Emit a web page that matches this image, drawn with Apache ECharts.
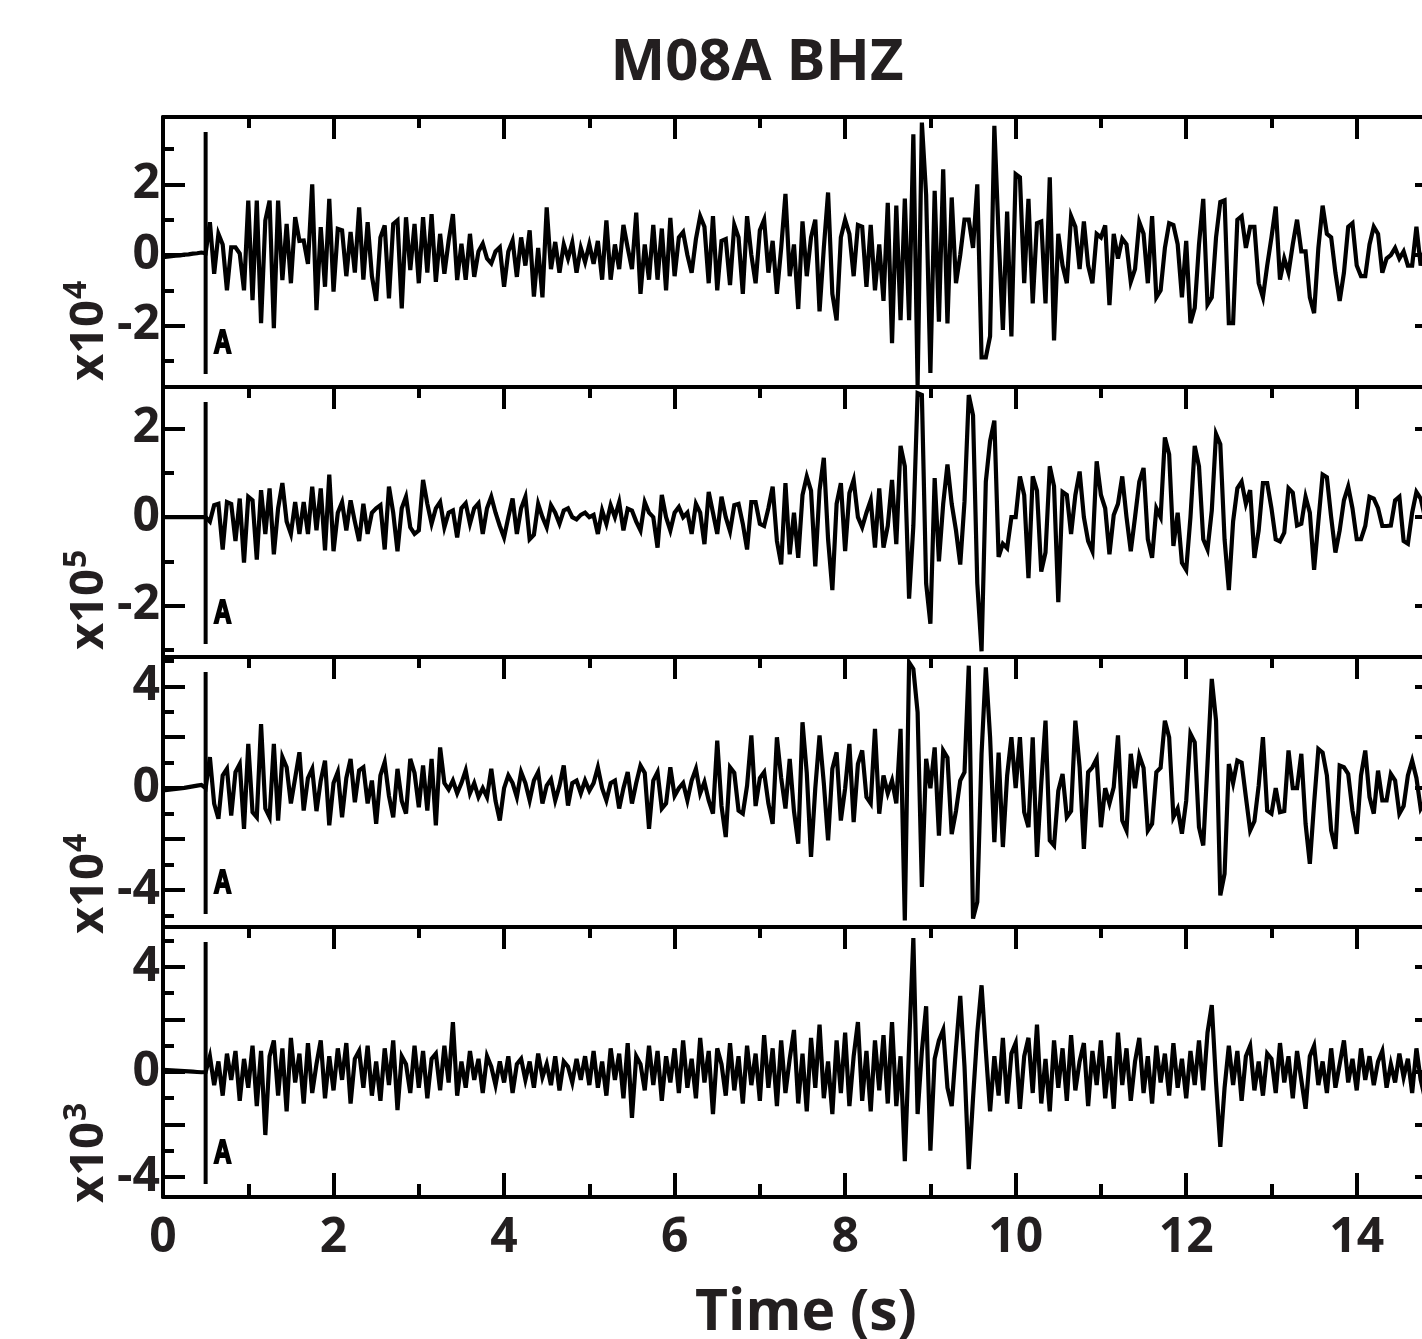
<!DOCTYPE html>
<html>
<head>
<meta charset="utf-8">
<script src="https://cdn.jsdelivr.net/npm/echarts@6/dist/echarts.min.js"></script>
<style>
html,body{margin:0;padding:0;background:#fff;}
#c{width:1422px;height:1339px;}
</style>
</head>
<body>
<div id="c"></div>
<script>
// ---------------- data ----------------
const chartTitle = 'M08A BHZ';
const xAxisTitle = 'Time (s)';
const sampleStart = 0;      // s
const sampleStep = 0.05;    // s
const markerTime = 0.5;     // s
const markerLabel = 'A';
const xMajorTicks = [0, 2, 4, 6, 8, 10, 12, 14];
const xMinorTicks = [1, 3, 5, 7, 9, 11, 13, 15];
const xRange = [0, 15];
const panelExponents = ['4', '5', '4', '3'];
const panelRanges = [[-3.74, 3.91], [-3.16, 2.94], [-5.45, 5.15], [-4.76, 5.52]];
const yLabelTicks = [[-2, 0, 2], [-2, 0, 2], [-4, 0, 4], [-4, 0, 4]];
const yMajorTicks = [[-2, 0, 2], [-2, 0, 2], [-4, -2, 0, 2, 4], [-4, -2, 0, 2, 4]];
const yMinorTicks = [[-3, -1, 1, 3], [-3, -1, 1], [-5, -3, -1, 1, 3, 5], [-3, -1, 1, 3, 5]];

// panel 1 (x10^4)
const trace1 = [
-0.06,-0.05,-0.03,-0.02,-0.01,0.01,0.02,0.04,0.05,0.07,
0.05,0.93,-0.53,0.6,0.3,-1.0,0.22,0.22,0.04,-1.0,
1.54,-1.28,1.54,-1.93,0.98,1.54,-2.07,1.54,-0.71,0.88,-0.8,1.07,0.4,0.41,-0.25,2.0,-1.56,0.79,-0.9,1.59,
-1.04,0.74,0.7,-0.6,0.65,-0.5,1.35,-0.7,0.93,-0.6,-1.3,0.5,0.84,-1.23,0.88,0.98,-1.51,1.07,-0.43,0.88,
-0.8,1.07,-0.5,1.16,-0.76,0.6,-0.53,0.4,1.16,-0.71,0.32,-0.7,0.6,-0.62,0.1,0.32,-0.1,-0.24,0.1,0.22,
-0.9,0.1,0.41,-0.62,0.5,-0.3,0.7,-1.18,0.2,-1.2,1.35,-0.4,0.37,-0.5,0.3,-0.1,0.35,-0.5,0.2,-0.2,
0.3,-0.25,0.4,-0.7,0.98,-0.7,0.3,-0.4,0.85,0.2,-0.4,1.2,-1.1,0.3,-0.7,0.85,-0.7,0.75,-1.0,1.05,
-0.6,0.5,0.65,0.0,-0.5,0.45,1.1,0.8,-0.8,1.1,-1.0,0.4,0.45,-0.85,0.85,0.5,-1.1,1.1,0.0,-0.8,
0.7,1.0,-0.5,0.4,-1.1,0.2,1.73,-0.6,0.3,-1.53,0.95,-0.6,0.5,1.0,-1.6,0.2,1.77,-1.1,-1.85,0.5,
1.0,0.6,-0.6,0.85,0.8,-0.9,0.85,-1.0,0.3,-1.3,1.48,-2.5,1.4,-1.85,1.6,-1.85,3.42,-3.7,3.75,1.7,
-3.34,1.82,-1.89,2.43,-1.94,1.63,-0.8,0.0,1.0,1.0,0.2,2.0,-2.9,-2.9,-2.3,3.66,0.55,-2.12,1.23,-2.31,
2.29,2.2,-0.8,1.59,-1.37,0.9,0.95,-1.37,2.2,-2.42,0.6,-0.3,-0.8,1.1,0.8,-0.4,0.95,-0.3,-0.8,0.6,
0.5,0.84,-1.42,0.6,-0.1,0.46,0.3,-0.76,-0.4,0.93,0.6,-0.8,1.1,-1.2,-1.0,0.2,0.9,0.85,0.3,-1.2,
0.4,-1.93,-1.5,0.3,1.59,-1.4,-1.2,0.5,1.5,1.55,-1.93,-1.93,1.0,1.1,0.2,0.8,0.8,-0.8,-1.2,-0.3,
0.5,1.37,-0.7,-0.1,-0.5,0.3,1.0,0.1,0.1,-1.2,-1.65,0.2,1.4,0.6,0.5,-0.5,-1.3,-0.5,0.8,0.9,
-0.3,-0.6,-0.6,0.3,0.8,0.6,-0.5,-0.1,0.0,0.2,-0.1,0.1,-0.3,-0.3,0.8,-0.3,0.2,-0.2,0.1,0.0,
0.0
];
// panel 2 (x10^5)
const trace2 = [
0.0,0.0,0.0,0.0,0.0,0.0,0.0,0.0,0.0,0.0,
0.0,-0.1,0.27,0.3,-0.73,0.34,0.3,-0.54,0.42,-1.03,
0.46,0.38,-0.96,0.61,-0.38,0.65,-0.84,0.2,0.77,-0.1,-0.38,0.34,-0.38,0.34,-0.38,0.69,-0.3,0.65,-0.75,0.96,
-0.77,0.1,0.34,-0.3,0.38,-0.1,-0.54,0.3,-0.38,0.1,0.2,0.27,-0.73,0.69,0.1,-0.77,0.2,0.46,-0.23,-0.38,
-0.3,0.84,0.3,-0.15,0.2,0.34,-0.23,0.1,0.15,-0.46,0.2,0.31,-0.15,0.2,0.31,-0.38,0.2,0.46,0.1,-0.2,
-0.46,0.0,0.42,-0.38,0.2,0.46,-0.5,-0.4,0.3,0.0,-0.23,0.27,0.1,-0.15,0.15,0.2,0.0,-0.05,0.05,0.1,
0.0,0.05,-0.38,0.15,-0.15,0.27,0.0,0.34,-0.3,0.19,0.15,-0.1,-0.3,0.34,0.1,0.0,-0.69,0.5,0.0,-0.3,
0.1,0.23,0.0,0.1,-0.38,0.3,0.1,-0.61,0.57,0.1,-0.38,0.46,0.0,-0.32,0.27,0.3,-0.15,-0.73,0.34,0.34,
-0.15,-0.2,0.2,0.69,-0.54,-1.07,0.77,-0.84,0.1,-0.92,0.5,0.92,0.6,-1.11,0.61,1.34,-0.5,-1.65,0.3,0.77,
-0.77,0.54,0.84,0.0,-0.23,0.1,0.38,-0.69,0.65,-0.69,-0.2,0.84,-0.61,1.61,1.15,-1.84,-0.2,2.8,2.76,-1.5,
-2.41,0.88,-1.0,0.3,1.19,0.3,-0.3,-1.07,0.35,2.76,2.3,-1.5,-3.03,0.8,1.72,2.18,-0.9,-0.6,-0.7,0.0,
0.0,0.92,0.5,-1.38,0.92,0.6,-1.23,-0.8,1.15,0.7,-1.92,0.57,0.5,-0.38,0.5,1.03,0.0,-0.54,-0.77,1.26,
0.5,0.2,-0.84,0.05,0.3,0.92,0.0,-0.77,0.0,0.8,1.11,-0.5,-0.92,0.2,0.0,1.8,1.42,-0.65,0.1,-1.03,
-1.19,0.0,1.61,1.15,-0.5,-0.73,0.15,1.88,1.65,-0.5,-1.65,-0.1,0.65,0.8,0.3,0.61,-0.92,-0.3,0.77,0.77,
0.2,-0.5,-0.55,-0.35,0.65,0.55,-0.19,-0.15,0.46,0.1,-1.19,-0.1,0.96,0.9,0.0,-0.8,-0.3,0.38,0.69,0.2,
-0.5,-0.5,-0.2,0.46,0.42,0.2,-0.2,-0.2,-0.19,0.38,0.46,-0.54,-0.6,0.1,0.57,0.42,0.0,-0.2,0.0,0.1,
0.0
];
// panel 3 (x10^4)
const trace3 = [
-0.09,-0.07,-0.05,-0.03,-0.01,0.01,0.04,0.07,0.1,0.13,
0.0,1.22,-0.61,-1.2,0.5,0.76,-1.07,0.63,0.95,-1.6,
1.74,-0.94,-1.14,2.52,-0.8,-1.14,1.74,-1.27,1.22,0.82,-0.6,0.4,1.41,-0.88,0.4,0.76,-0.9,0.3,1.08,-1.46,
0.2,0.63,-1.14,0.4,1.15,-0.55,0.7,0.82,-0.6,0.3,-1.4,0.5,1.02,-0.3,-1.14,0.76,-0.5,-1.0,1.15,0.6,
-0.75,0.89,-0.88,1.15,-1.46,1.6,0.2,-0.05,0.3,-0.2,0.2,0.7,-0.2,0.2,-0.35,0.0,-0.35,0.76,-0.5,-1.27,
0.0,0.5,0.2,-0.35,0.63,0.2,-0.48,0.3,0.63,-0.6,0.1,0.35,-0.48,0.1,0.89,-0.68,0.2,0.3,-0.2,0.3,
-0.1,0.2,0.82,0.0,-0.48,0.2,0.3,-0.8,0.0,0.63,-0.6,0.2,0.89,0.6,-1.6,0.3,0.63,-0.8,-0.6,0.82,
-0.3,0.0,0.2,-0.48,0.3,0.76,-0.2,0.24,-0.48,-1.0,1.87,-0.7,-1.92,0.82,0.6,-0.88,-1.0,0.1,2.07,-0.7,
0.4,0.63,-0.6,-1.4,2.0,0.4,-0.8,1.15,-0.9,-2.18,2.59,0.6,-2.7,0.0,2.07,0.2,-2.05,0.76,1.41,-1.27,
0.0,1.74,-1.33,0.95,1.48,-0.35,-0.6,2.33,-1.0,0.5,-0.2,0.3,-0.6,2.33,-5.19,4.94,4.68,2.98,-3.88,1.15,
0.0,1.6,-1.86,1.48,1.2,-1.8,-0.9,0.3,0.63,4.81,-5.12,-4.47,1.35,4.74,2.0,-2.12,1.4,-2.31,0.5,2.0,
0.0,2.0,-0.94,-1.53,2.0,-2.7,0.17,2.65,-2.05,-2.25,-0.1,0.56,-1.14,-0.9,2.65,0.82,-2.38,0.63,0.82,1.15,
-1.53,0.0,-0.6,0.04,2.07,-1.27,-1.66,1.35,0.0,1.28,0.8,-1.66,-1.4,0.63,0.8,2.65,2.0,-1.14,-0.8,-1.79,
-0.5,2.13,1.8,-1.53,-2.25,0.95,4.29,2.65,-4.21,-3.36,0.95,0.2,1.08,1.0,-0.35,-1.66,-1.3,0.1,2.0,-0.88,
-1.0,0.0,-0.94,-0.9,1.48,0.0,0.0,1.35,-1.4,-2.97,-0.6,1.54,1.4,0.5,-1.66,-2.38,0.89,0.82,0.56,-0.88,
-1.79,0.5,1.48,-0.35,-1.0,0.69,-0.48,-0.48,0.56,0.3,-1.0,-0.7,0.5,1.08,0.4,-0.8,-0.5,0.2,0.3,0.0,
0.0
];
// panel 4 (x10^3)
const trace4 = [
0.08,0.07,0.06,0.05,0.04,0.03,0.02,0.01,0.0,-0.01,
0.0,0.6,-0.5,0.4,-0.9,0.7,-0.3,0.8,-1.1,0.5,
-0.6,1.0,-1.3,0.8,-2.4,0.6,1.2,-0.9,0.9,-1.5,1.3,-0.4,0.7,-1.2,1.1,-0.8,0.3,1.2,-1.0,0.6,
-0.7,0.9,-0.3,1.1,-1.2,0.5,0.8,-0.6,1.0,-0.9,0.4,-1.1,0.9,-0.5,1.2,-1.45,0.6,0.3,-0.8,1.0,
-0.6,0.8,-1.0,0.5,0.7,-0.7,1.0,-0.4,1.9,-0.9,0.4,-0.6,0.8,-0.3,0.5,-0.8,0.6,0.2,-0.5,0.4,
-0.4,0.6,-0.8,0.3,0.5,-0.3,0.4,-0.6,0.7,-0.2,0.3,-0.5,0.6,-0.7,0.4,0.2,-0.4,0.5,-0.3,0.6,
-0.5,0.8,-0.6,0.4,-0.9,0.9,-0.3,0.7,-1.0,1.1,-1.75,0.6,0.3,-0.7,1.0,-0.5,0.8,-1.1,0.6,-0.4,
0.9,-0.8,1.2,-0.6,0.5,-1.0,1.3,-0.4,0.8,-1.6,0.9,0.3,-0.9,1.1,-0.7,0.6,-1.2,1.0,-0.5,0.7,
-1.1,1.4,-0.6,0.9,-1.3,1.2,-0.8,0.5,1.6,-1.2,0.7,-1.5,1.3,-0.6,1.8,-1.0,0.4,-1.6,1.2,-0.8,
1.5,-1.3,0.6,1.9,-1.1,0.8,-1.5,1.2,-0.7,1.4,-1.2,1.9,-1.3,0.6,-3.4,1.0,5.1,-1.6,0.8,2.5,
-3.0,0.5,1.2,1.6,-0.6,-1.3,0.9,2.9,0.2,-3.7,-1.0,1.5,3.3,0.8,-1.5,0.6,-0.9,1.3,-1.2,0.7,
1.1,-1.4,0.6,1.3,-0.8,1.8,-1.2,0.5,-1.5,1.2,-0.6,0.9,-1.1,1.4,-0.7,0.4,1.1,-1.3,0.8,-0.5,
1.2,-1.0,0.6,-1.4,1.5,-0.5,0.9,-1.1,0.4,1.3,-0.8,0.6,-1.2,1.0,-0.4,0.7,-0.9,1.1,-0.6,0.5,
-1.0,0.8,-0.5,1.2,-0.7,1.5,2.55,-0.4,-2.85,-0.6,1.0,-0.5,0.8,-1.1,0.6,1.0,-0.7,0.4,-0.9,0.7,
0.5,-0.8,1.1,-0.4,0.6,-1.0,0.8,-0.3,-1.4,0.6,1.0,-0.5,0.4,-0.8,0.9,-0.6,0.3,1.2,-0.4,0.5,
-0.7,0.9,-0.3,0.6,-0.5,0.4,0.8,-0.6,0.3,-0.4,0.7,-0.2,0.5,-0.8,0.9,-0.3,-1.0,0.4,-0.2,0.1,
0.0
];
const traces = [trace1, trace2, trace3, trace4];

// ---------------- layout / style ----------------
const GRID_LEFT = 163, GRID_WIDTH = 1279, GRID_H = 270;
const GRID_TOPS = [117, 387, 657, 927];
const INK = '#000';
const TEXT = '#231f20';
const FONT = "'Open Sans', 'Liberation Sans', sans-serif";
const AXIS_W = 4;
const EXP_START_Y = [381, 650, 934, 1203];

const chart = echarts.init(document.getElementById('c'), null, {renderer: 'canvas'});

const grids = [], xAxes = [], yAxes = [], series = [];
const mainX = [], mainY = [];
const tickStyle = {color: INK, width: AXIS_W};

traces.forEach((tr, i) => {
  grids.push({left: GRID_LEFT, top: GRID_TOPS[i], width: GRID_WIDTH, height: GRID_H,
              containLabel: false, outerBoundsMode: 'none'});
  const [ymin, ymax] = panelRanges[i];
  const baseX = {type: 'value', gridIndex: i, min: xRange[0], max: xRange[1],
                 splitLine: {show: false}, axisLabel: {show: false}};
  mainX.push(xAxes.length);
  xAxes.push(Object.assign({}, baseX, {position: 'top',
    axisLine: {show: true, onZero: false, lineStyle: {color: INK, width: AXIS_W}},
    axisTick: {show: true, inside: true, length: 22, lineStyle: tickStyle, customValues: xMajorTicks}}));
  xAxes.push(Object.assign({}, baseX, {position: 'top',
    axisLine: {show: false, onZero: false},
    axisTick: {show: true, inside: true, length: 11, lineStyle: tickStyle, customValues: xMinorTicks}}));
  if (i === traces.length - 1) {
    xAxes.push(Object.assign({}, baseX, {position: 'bottom',
      axisLine: {show: true, onZero: false, lineStyle: {color: INK, width: AXIS_W}},
      axisTick: {show: true, inside: true, length: 24, lineStyle: tickStyle, customValues: xMajorTicks},
      axisLabel: {show: true, customValues: xMajorTicks, margin: 17, color: TEXT,
                  fontSize: 48, fontWeight: 'bold', fontFamily: FONT}}));
    xAxes.push(Object.assign({}, baseX, {position: 'bottom',
      axisLine: {show: false, onZero: false},
      axisTick: {show: true, inside: true, length: 13, lineStyle: tickStyle, customValues: xMinorTicks}}));
  }
  const baseY = {type: 'value', gridIndex: i, min: ymin, max: ymax, splitLine: {show: false}, axisLabel: {show: false}};
  mainY.push(yAxes.length);
  yAxes.push(Object.assign({}, baseY, {position: 'left',
    axisLine: {show: true, onZero: false, lineStyle: {color: INK, width: AXIS_W}},
    axisTick: {show: true, inside: true, length: 22, lineStyle: tickStyle, customValues: yMajorTicks[i]},
    axisLabel: {show: true, customValues: yLabelTicks[i], margin: 3, color: TEXT,
                fontSize: 48, fontWeight: 'bold', fontFamily: FONT}}));
  yAxes.push(Object.assign({}, baseY, {position: 'left',
    axisLine: {show: false, onZero: false},
    axisTick: {show: true, inside: true, length: 11, lineStyle: tickStyle, customValues: yMinorTicks[i]}}));
  yAxes.push(Object.assign({}, baseY, {position: 'right',
    axisLine: {show: true, onZero: false, lineStyle: {color: INK, width: AXIS_W}},
    axisTick: {show: true, inside: true, length: 27, lineStyle: tickStyle, customValues: yMajorTicks[i]}}));

  series.push({
    type: 'line', xAxisIndex: mainX[i], yAxisIndex: mainY[i],
    data: tr.map((v, k) => [Math.round((sampleStart + k * sampleStep) * 100) / 100, v]),
    showSymbol: false, symbol: 'none', silent: true, clip: true,
    lineStyle: {color: INK, width: 4.2, join: 'miter', miterLimit: 5}
  });
});

chart.setOption({
  animation: false,
  backgroundColor: '#fff',
  grid: grids, xAxis: xAxes, yAxis: yAxes, series: series
});

// ---------------- text and markers ----------------
const measure = document.createElement('canvas').getContext('2d');
const EXP_MAIN_FONT = `bold 47px ${FONT}`;
const EXP_SUP_FONT = `bold 32px ${FONT}`;
measure.font = EXP_MAIN_FONT;
const mainW = measure.measureText('x10').width;

const graphics = [];
graphics.push({type: 'text', x: 757, y: 63, silent: true,
  style: {text: chartTitle, font: `bold 58px ${FONT}`, fill: TEXT, align: 'center', verticalAlign: 'middle'}});
graphics.push({type: 'text', x: 806, y: 1314, silent: true,
  style: {text: xAxisTitle, font: `bold 57px ${FONT}`, fill: TEXT, align: 'center', verticalAlign: 'middle'}});

traces.forEach((tr, i) => {
  const top = GRID_TOPS[i], bottom = GRID_TOPS[i] + GRID_H;
  const px = chart.convertToPixel({xAxisIndex: mainX[i]}, markerTime);
  graphics.push({type: 'line', silent: true,
    shape: {x1: px, y1: top + 15, x2: px, y2: bottom - 13},
    style: {stroke: INK, lineWidth: 4}});
  graphics.push({type: 'text', x: px + 8, y: bottom - 43, scaleX: 0.72, silent: true,
    style: {text: markerLabel, font: `bold 34px 'Liberation Sans', sans-serif`, fill: INK,
            stroke: INK, lineWidth: 2.2, align: 'left', verticalAlign: 'middle'}});
  // y scale label "x10^n"
  const sy = EXP_START_Y[i];
  graphics.push({type: 'text', x: 90, y: sy, rotation: Math.PI / 2, silent: true,
    style: {text: 'x10', font: EXP_MAIN_FONT, fill: TEXT, align: 'left', verticalAlign: 'middle'}});
  graphics.push({type: 'text', x: 77, y: sy - mainW - 1, rotation: Math.PI / 2, silent: true,
    style: {text: panelExponents[i], font: EXP_SUP_FONT, fill: TEXT, align: 'left', verticalAlign: 'middle'}});
});

chart.setOption({graphic: graphics});
</script>
</body>
</html>
